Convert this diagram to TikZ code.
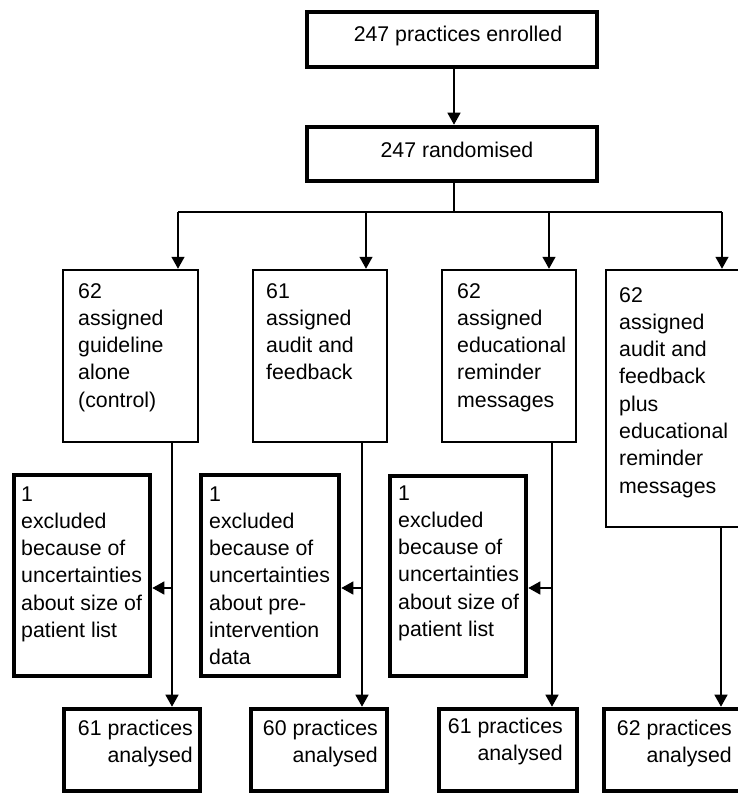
\documentclass[tikz,border=0pt]{standalone}
\usepackage{fontspec}
\setmainfont{Liberation Sans}
\usetikzlibrary{arrows.meta,fit}
\newcommand{\flowfont}{\fontsize{21.3}{27.3}\selectfont}
\tikzset{
    heavybox/.style={draw,line width=4.6pt,inner sep=0pt},
    lightbox/.style={draw,line width=2.5pt,inner sep=0pt},
    lefttext/.style={align=left,inner sep=0pt,anchor=base west,font=\flowfont},
    righttext/.style={align=right,inner sep=0pt,anchor=base east,font=\flowfont},
    midtext/.style={inner sep=0pt,anchor=base,font=\flowfont},
    link/.style={line width=1.4pt}
}
\begin{document}
\begin{tikzpicture}[x=1pt,y=-1pt,>={Triangle[length=12pt,width=13pt]}]
            \useasboundingbox (0,0) rectangle (738,793);
            \clip (0,0) rectangle (738,793);
            \node[heavybox,fit={(307,12) (597,67)}] (enrol) {};
            \node[heavybox,fit={(307,127) (597,181)}] (rand) {};
            \node[midtext] (enrolt) at (458,41) {247 practices enrolled};
            \node[midtext] (randt) at (457,157) {247 randomised};
            \node[lightbox,fit={(63,270) (198,442)}] (g1) {};
            \node[lightbox,fit={(253,270) (387,442)}] (g2) {};
            \node[lightbox,fit={(442,270) (576,442)}] (g3) {};
            \node[lightbox,fit={(606,270) (750,527)}] (g4) {};
            \node[lefttext] (g1t) at (78,407.2) {62\\assigned\\guideline\\alone\\(control)};
            \node[lefttext] (g2t) at (266,379.9) {61\\assigned\\audit and\\feedback};
            \node[lefttext] (g3t) at (457,407.2) {62\\assigned\\educational\\reminder\\messages};
            \node[lefttext] (g4t) at (619,493.1) {62\\assigned\\audit and\\feedback\\plus\\educational\\reminder\\messages};
            \node[heavybox,fit={(14,475) (150,676)}] (ex1) {};
            \node[heavybox,fit={(201,475) (339,676)}] (ex2) {};
            \node[heavybox,fit={(390,476) (526,676)}] (ex3) {};
            \node[lefttext] (ex1t) at (21,637.5) {1\\excluded\\because of\\uncertainties\\about size of\\patient list};
            \node[lefttext] (ex2t) at (209,664.8) {1\\excluded\\because of\\uncertainties\\about pre-\\intervention\\data};
            \node[lefttext] (ex3t) at (398,636.5) {1\\excluded\\because of\\uncertainties\\about size of\\patient list};
            \node[heavybox,fit={(64,709) (200,791)}] (an1) {};
            \node[heavybox,fit={(251,709) (387,791)}] (an2) {};
            \node[heavybox,fit={(439,709) (577,791)}] (an3) {};
            \node[heavybox,fit={(604,709) (750,791)}] (an4) {};
            \node[righttext] (an1t) at (193,762.3) {61 practices\\analysed};
            \node[righttext] (an2t) at (378,762.3) {60 practices\\analysed};
            \node[righttext] (an3t) at (563,760.3) {61 practices\\analysed};
            \node[righttext] (an4t) at (732,762.3) {62 practices\\analysed};
            \coordinate (s1) at (178,212);
            \coordinate (s2) at (366,212);
            \coordinate (s3) at (549,212);
            \coordinate (s4) at (722,212);
            \coordinate (d1) at (172,588);
            \coordinate (d2) at (362,588);
            \coordinate (d3) at (552,588);
            \coordinate (d4) at (721,588);
            \draw[link,->] (enrol.south -| 454,0) -- (rand.north -| 454,0);
            \draw[link] (rand.south -| 454,0) -- (s1 -| 454,0);
            \draw[link] (s1) -- (s4);
            \draw[link,->] (s1) -- (g1.north -| s1);
            \draw[link,->] (s2) -- (g2.north -| s2);
            \draw[link,->] (s3) -- (g3.north -| s3);
            \draw[link,->] (s4) -- (g4.north -| s4);
            \draw[link,->] (g1.south -| d1) -- (an1.north -| d1);
            \draw[link,->] (g2.south -| d2) -- (an2.north -| d2);
            \draw[link,->] (g3.south -| d3) -- (an3.north -| d3);
            \draw[link,->] (g4.south -| d4) -- (an4.north -| d4);
            \draw[link,->] (d1) -- (d1 -| ex1.east);
            \draw[link,->] (d2) -- (d2 -| ex2.east);
            \draw[link,->] (d3) -- (d3 -| ex3.east);
        \end{tikzpicture}
\end{document}
